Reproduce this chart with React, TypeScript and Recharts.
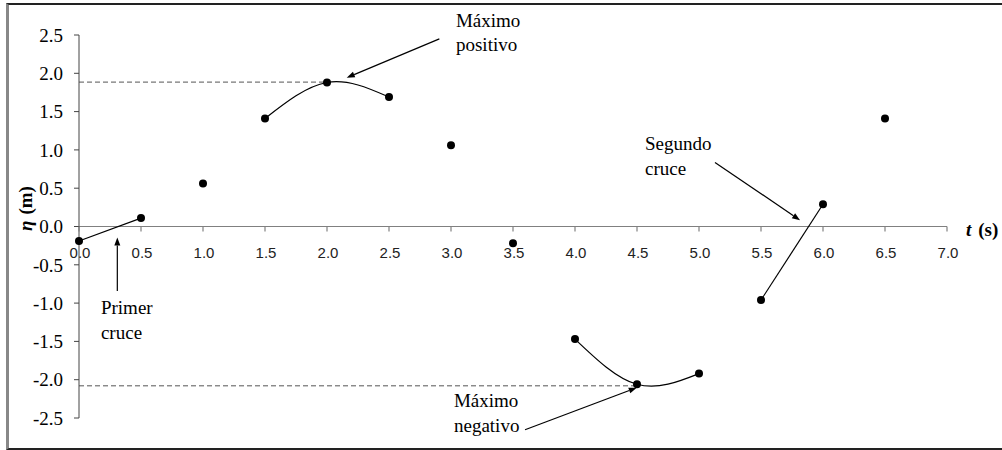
import {
  ComposedChart,
  Line,
  ReferenceDot,
  ReferenceLine,
  Scatter,
  XAxis,
  YAxis,
} from "recharts";

const times = [0, 0.5, 1, 1.5, 2, 2.5, 3, 3.5, 4, 4.5, 5, 5.5, 6, 6.5];
const eta = [-0.19, 0.11, 0.56, 1.41, 1.88, 1.69, 1.06, -0.22, -1.47, -2.06, -1.92, -0.96, 0.29, 1.41];
const xTicks = [0, 0.5, 1, 1.5, 2, 2.5, 3, 3.5, 4, 4.5, 5, 5.5, 6, 6.5, 7];
const yTicks = [-2.5, -2, -1.5, -1, -0.5, 0, 0.5, 1, 1.5, 2, 2.5];

// indices of the points joined by each line
const firstCross = [0, 1];
const positivePeak = [3, 4, 5];
const negativePeak = [8, 9, 10];
const secondCross = [11, 12];

const maxPositive = 1.885;
const maxNegative = -2.08;

// text anchor and arrow (tail -> head), in (t, eta) units
const notes = [
  { lines: ["Máximo", "positivo"], at: [3.04, 2.605], from: [2.906, 2.449], to: [2.159, 1.943] },
  { lines: ["Segundo", "cruce"], at: [4.565, 0.997], from: [5.129, 0.837], to: [5.815, 0.082] },
  { lines: ["Primer", "cruce"], at: [0.177, -1.145], from: [0.309, -0.842], to: [0.309, -0.144] },
  { lines: ["Máximo", "negativo"], at: [3.024, -2.36], from: [3.597, -2.654], to: [4.498, -2.105] },
];

const points = times.map((t, i) => ({ t, eta: eta[i] }));
const pick = (idx: number[]) => idx.map((i) => points[i]);

const serif = "Liberation Serif";
const sans = "Liberation Sans";

function Arrow(props: any) {
  const { x1, y1, x2, y2 } = props;
  const a = Math.atan2(y2 - y1, x2 - x1);
  const len = 8;
  const half = 3;
  const bx = x2 - len * Math.cos(a);
  const by = y2 - len * Math.sin(a);
  const p1 = `${bx + half * Math.sin(a)},${by - half * Math.cos(a)}`;
  const p2 = `${bx - half * Math.sin(a)},${by + half * Math.cos(a)}`;
  return (
    <g>
      <line x1={x1} y1={y1} x2={bx} y2={by} stroke="#000" strokeWidth={1.2} />
      <polygon points={`${x2},${y2} ${p1} ${p2}`} fill="#000" />
    </g>
  );
}

const dot = (p: any) => <circle cx={p.cx} cy={p.cy} r={4} fill="#000" />;

export default function App() {
  return (
    <div style={{ position: "absolute", left: 0, top: 0, width: 1002, height: 450, overflow: "hidden", background: "#fff" }}>
      <div
        style={{
          position: "absolute",
          left: 6,
          top: 3,
          width: 1100,
          height: 443,
          borderLeft: "3px solid #888",
          borderTop: "2px solid #222",
          borderBottom: "2px solid #222",
        }}
      />
      <div style={{ position: "absolute", left: 0, top: 0 }}>
        <ComposedChart width={1002} height={450} data={points} margin={{ top: 35, right: 55, bottom: 32, left: 0 }}>
          <XAxis type="number" dataKey="t" domain={[0, 7]} ticks={xTicks} hide />
          <YAxis
            type="number"
            domain={[-2.5, 2.5]}
            ticks={yTicks}
            width={79}
            tickSize={5}
            tickMargin={11}
            stroke="#444"
            tick={{ fill: "#000", fontFamily: serif, fontSize: 19 }}
            tickFormatter={(v: number) => v.toFixed(1)}
          />
          <ReferenceLine y={0} stroke="#808080" strokeWidth={1.2} />
          {xTicks.map((t) => (
            <ReferenceDot
              key={"xt" + t}
              x={t}
              y={0}
              ifOverflow="visible"
              shape={(p: any) => (
                <g>
                  <line x1={p.cx} y1={p.cy} x2={p.cx} y2={p.cy + 5} stroke="#808080" strokeWidth={1.2} />
                  <text x={p.cx + 1} y={p.cy + 31} textAnchor="middle" fontFamily={sans} fontSize={15} fill="#222">
                    {t.toFixed(1)}
                  </text>
                </g>
              )}
            />
          ))}
          <ReferenceLine
            segment={[{ x: 0, y: maxPositive }, { x: times[positivePeak[1]], y: maxPositive }]}
            stroke="#555"
            strokeDasharray="5 3"
          />
          <ReferenceLine
            segment={[{ x: 0, y: maxNegative }, { x: times[negativePeak[1]], y: maxNegative }]}
            stroke="#555"
            strokeDasharray="5 3"
          />
          {[firstCross, positivePeak, negativePeak, secondCross].map((idx, k) => (
            <Line
              key={"ln" + k}
              data={pick(idx)}
              dataKey="eta"
              type={idx.length > 2 ? "natural" : "linear"}
              stroke="#000"
              strokeWidth={1.2}
              dot={false}
              activeDot={false}
              isAnimationActive={false}
            />
          ))}
          <Scatter data={points} dataKey="eta" shape={dot} isAnimationActive={false} />
          {notes.map((n, k) => (
            <ReferenceLine
              key={"ar" + k}
              segment={[{ x: n.from[0], y: n.from[1] }, { x: n.to[0], y: n.to[1] }]}
              ifOverflow="visible"
              shape={(p: any) => <Arrow {...p} />}
            />
          ))}
          {notes.map((n, k) => (
            <ReferenceDot
              key={"tx" + k}
              x={n.at[0]}
              y={n.at[1]}
              ifOverflow="visible"
              shape={(p: any) => (
                <text x={p.cx} y={p.cy} fontFamily={serif} fontSize={19} fill="#000">
                  {n.lines.map((s, i) => (
                    <tspan key={i} x={p.cx} dy={i === 0 ? 0 : 24.5}>
                      {s}
                    </tspan>
                  ))}
                </text>
              )}
            />
          ))}
          <ReferenceDot
            x={7}
            y={0}
            ifOverflow="visible"
            shape={(p: any) => (
              <text x={p.cx + 19} y={p.cy + 9} fontFamily={serif} fontSize={19} fontWeight="bold" fill="#000">
                <tspan fontStyle="italic">t</tspan>
                <tspan dx={7}>(s)</tspan>
              </text>
            )}
          />
          <ReferenceDot
            x={0}
            y={0}
            ifOverflow="visible"
            shape={(p: any) => {
              const x = p.cx - 54;
              const y = p.cy - 18;
              return (
                <text
                  x={x}
                  y={y}
                  transform={`rotate(-90 ${x} ${y})`}
                  textAnchor="middle"
                  dominantBaseline="central"
                  fontFamily={serif}
                  fontSize={19}
                  fontWeight="bold"
                  fill="#000"
                >
                  <tspan fontStyle="italic">η</tspan>
                  <tspan dx={6}>(m)</tspan>
                </text>
              );
            }}
          />
        </ComposedChart>
      </div>
    </div>
  );
}
